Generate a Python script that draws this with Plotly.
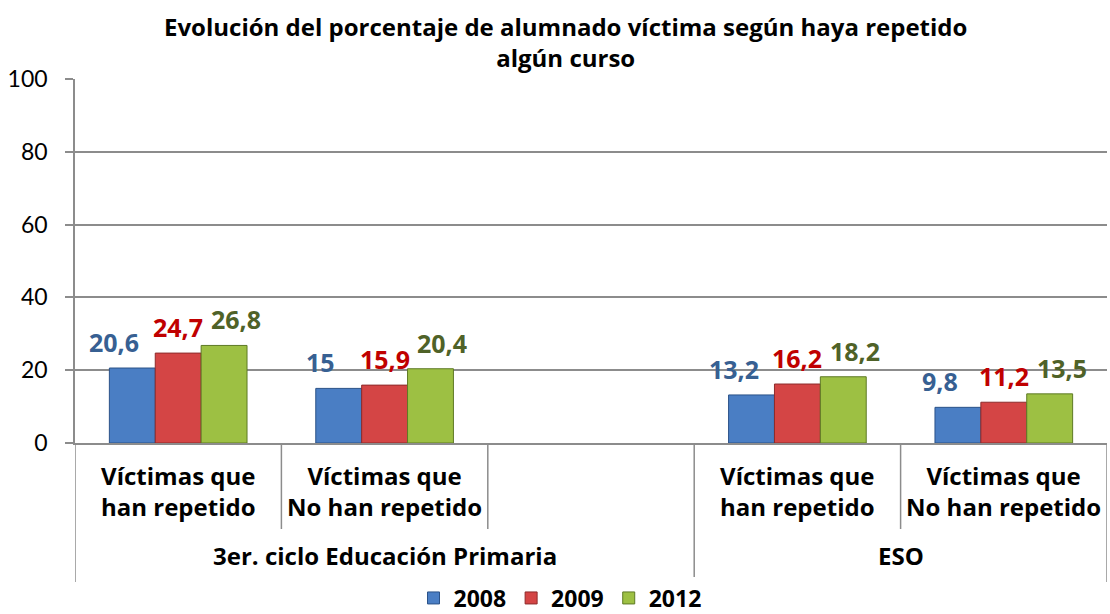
import plotly.graph_objects as go

# ---- data ----
slot_ids = ["P_rep", "P_norep", "P_gap", "E_rep", "E_norep"]
slot_labels = ["Víctimas que<br>han repetido", "Víctimas que<br>No han repetido", "",
               "Víctimas que<br>han repetido", "Víctimas que<br>No han repetido"]
groups = ["3er. ciclo Educación Primaria", "ESO"]
group_spans = [(0, 2), (3, 4)]
years = ["2008", "2009", "2012"]
v2008 = [20.6, 15.0, None, 13.2, 9.8]
v2009 = [24.7, 15.9, None, 16.2, 11.2]
v2012 = [26.8, 20.4, None, 18.2, 13.5]
series = [v2008, v2009, v2012]
y_ticks = [0, 20, 40, 60, 80, 100]
title_text = "Evolución del porcentaje de alumnado víctima según haya repetido<br>algún curso"

# ---- style ----
W, H = 1110, 614
ML, MR, MT, MB = 75, 3, 79, 171
bar_fill = ["#4A7EC4", "#D44545", "#9DC043"]
bar_line = ["#2B5288", "#8E2B2B", "#5E7A25"]
label_col = ["#376092", "#C00000", "#4F6228"]
label_nudge = [-18, 0, 12]   # extra horizontal spread of the value labels (px)
grid = "#8C8C8C"
FONT = "Open Sans"
BARGAP = 0.333

def fmt(v):
    s = ("%.1f" % v).rstrip("0").rstrip(".")
    return s.replace(".", ",")

fig = go.Figure()
for i, (yr, vals) in enumerate(zip(years, series)):
    fig.add_trace(go.Bar(
        x=slot_ids, y=vals, name="<b>%s</b>" % yr,
        marker=dict(color=bar_fill[i], line=dict(color=bar_line[i], width=1)),
        hoverinfo="skip",
    ))

plot_w = W - ML - MR
plot_h = H - MT - MB
slot_px = plot_w / len(slot_ids)
bar_px = slot_px * (1 - BARGAP) / len(years)

def py(pix):  # pixels below the x axis -> paper coordinate
    return -pix / plot_h

ann = []
# title
ann.append(dict(x=(565 - ML) / plot_w, y=1 + (MT - 42) / plot_h, xref="paper", yref="paper",
                text="<b>%s</b>" % title_text, showarrow=False,
                xanchor="center", yanchor="middle",
                font=dict(family=FONT, size=24, color="#000000")))
# data labels
for i, vals in enumerate(series):
    for sid, v in zip(slot_ids, vals):
        if v is None:
            continue
        ann.append(dict(x=sid, y=v, xref="x", yref="y", text="<b>%s</b>" % fmt(v),
                        showarrow=False, yanchor="bottom", yshift=7,
                        xshift=(i - 1) * bar_px + label_nudge[i],
                        font=dict(family=FONT, size=25, color=label_col[i])))
# category labels
for sid, lab in zip(slot_ids, slot_labels):
    if not lab:
        continue
    ann.append(dict(x=sid, y=0, xref="x", yref="y", text="<b>%s</b>" % lab,
                    showarrow=False, yanchor="top", yshift=-14,
                    font=dict(family=FONT, size=24, color="#000000")))
# group labels
for g, (a, b) in zip(groups, group_spans):
    ann.append(dict(x=(a + b) / 2, y=0, xref="x", yref="y", text="<b>%s</b>" % g,
                    showarrow=False, yanchor="middle", yshift=-112,
                    font=dict(family=FONT, size=24, color="#000000")))

# divider lines
shapes = []
outer = [-0.5, 2.5, 4.5]
inner = [0.5, 1.5, 3.5]
for xv in outer:
    shapes.append(dict(type="line", xref="x", yref="paper", x0=xv, x1=xv,
                       y0=0, y1=py(139), line=dict(color=grid, width=1.5)))
for xv in inner:
    shapes.append(dict(type="line", xref="x", yref="paper", x0=xv, x1=xv,
                       y0=0, y1=py(86), line=dict(color=grid, width=1.5)))

fig.update_layout(
    width=W, height=H,
    margin=dict(l=ML, r=MR, t=MT, b=MB, autoexpand=False),
    paper_bgcolor="white", plot_bgcolor="white",
    barmode="group", bargap=BARGAP, bargroupgap=0,
    xaxis=dict(type="category", categoryorder="array", categoryarray=slot_ids,
               range=[-0.5, 4.5], showticklabels=False, showgrid=False,
               showline=True, linecolor=grid, linewidth=1.5, zeroline=False, ticks=""),
    yaxis=dict(range=[0, 100], tickvals=y_ticks, showgrid=True, gridcolor=grid, gridwidth=1.5,
               showline=True, linecolor=grid, linewidth=1.5, ticks="outside", ticklen=8,
               tickcolor=grid, tickwidth=1.5, zeroline=False, ticklabelstandoff=13,
               tickfont=dict(family="Lato", size=23, color="#000000")),
    legend=dict(orientation="h", x=(560 - ML) / plot_w, xanchor="center",
                y=py(155), yanchor="middle",
                font=dict(family=FONT, size=23, color="#000000"),
                itemwidth=30, traceorder="normal", tracegroupgap=0),
    annotations=ann, shapes=shapes,
    font=dict(family=FONT),
)

fig.write_html("out.html", config={"displayModeBar": False},
               post_script="document.body.style.margin='0';document.body.style.overflow='hidden';")
